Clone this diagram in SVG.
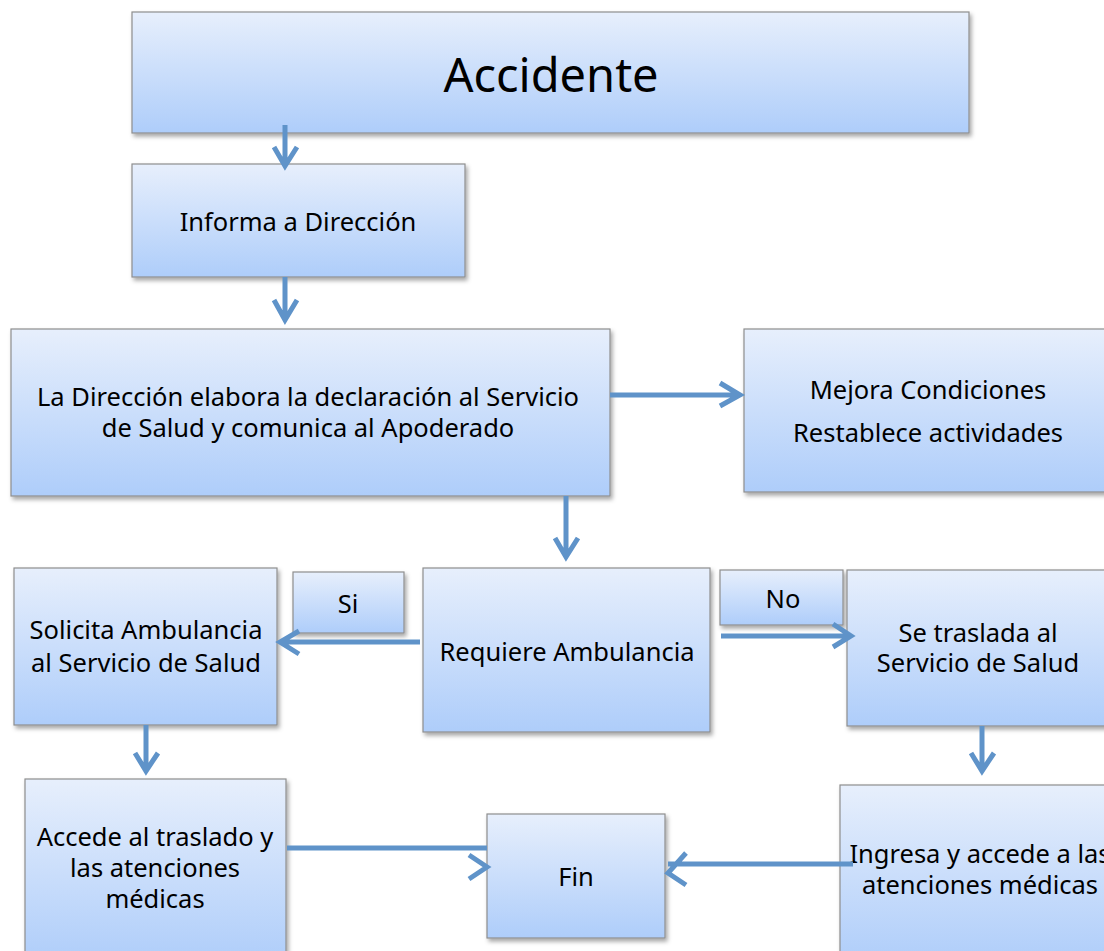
<svg xmlns="http://www.w3.org/2000/svg" width="1104" height="951" viewBox="0 0 1104 951">
<defs>
<linearGradient id="g" x1="0" y1="0" x2="0" y2="1">
<stop offset="0" stop-color="#e7effc"/>
<stop offset="1" stop-color="#aecdfa"/>
</linearGradient>
<filter id="sh" x="-10%" y="-10%" width="130%" height="130%">
<feDropShadow dx="2" dy="3" stdDeviation="2" flood-color="#000" flood-opacity="0.35"/>
</filter>
<filter id="bl" x="-10%" y="-200%" width="120%" height="500%">
<feGaussianBlur stdDeviation="2"/>
</filter>
</defs>
<style>
.box{fill:url(#g);stroke:#8e8e8e;stroke-width:1.2;filter:url(#sh)}
.t{font-family:"Noto Sans","Open Sans",sans-serif;font-size:25.5px;fill:#000;text-anchor:middle}
.big{font-size:47px}
.c{fill:none;stroke:#5f93c9;stroke-width:5;stroke-linecap:butt;stroke-linejoin:miter}
.s{fill:none;stroke:#9a9a9a;stroke-width:4;filter:url(#bl);opacity:0.8}
</style>
<rect width="1104" height="951" fill="#fff"/>
<g id="n-accidente"><rect class="box" x="132" y="12" width="837" height="121"/><text class="t big" x="551" y="92">Accidente</text></g>
<g id="n-informa"><rect class="box" x="132" y="164" width="333" height="113"/><text class="t" x="298" y="231">Informa a Dirección</text></g>
<g id="n-declaracion"><rect class="box" x="11" y="329" width="599" height="167"/><text class="t" x="308" y="406">La Dirección elabora la declaración al Servicio</text><text class="t" x="308" y="437">de Salud y comunica al Apoderado</text></g>
<g id="n-mejora"><rect class="box" x="744" y="329" width="370" height="163"/><text class="t" x="928" y="399">Mejora Condiciones</text><text class="t" x="928" y="442">Restablece actividades</text></g>
<g id="n-solicita"><rect class="box" x="14" y="568" width="263" height="157"/><text class="t" x="146" y="639">Solicita Ambulancia</text><text class="t" x="146" y="672">al Servicio de Salud</text></g>
<g id="n-si"><rect class="box" x="293" y="572" width="111" height="61"/><text class="t" x="348" y="613">Si</text></g>
<g id="n-requiere"><rect class="box" x="423" y="568" width="287" height="164"/><text class="t" x="567" y="661">Requiere Ambulancia</text></g>
<g id="n-no"><rect class="box" x="720" y="570" width="123" height="55"/><text class="t" x="783" y="608">No</text></g>
<g id="n-traslada"><rect class="box" x="847" y="570" width="267" height="156"/><text class="t" x="978" y="642">Se traslada al</text><text class="t" x="978" y="672">Servicio de Salud</text></g>
<g id="n-accede"><rect class="box" x="25" y="779" width="261" height="185"/><text class="t" x="155" y="846">Accede al traslado y</text><text class="t" x="155" y="877">las atenciones</text><text class="t" x="155" y="908">médicas</text></g>
<g id="n-fin"><rect class="box" x="487" y="814" width="178" height="124"/><text class="t" x="576" y="886">Fin</text></g>
<g id="n-ingresa"><rect class="box" x="840" y="785" width="274" height="180"/><text class="t" x="980" y="863">Ingresa y accede a las</text><text class="t" x="980" y="894">atenciones médicas</text></g>
<g id="connectors">
<path class="s" d="M287 869 H470"/>
<path class="s" d="M668 877 H853"/>
<path class="c" d="M285 125 V166 M274 147 L285 166 L297 147"/>
<path class="c" d="M285 277 V320 M274 300 L285 320 L297 300"/>
<path class="c" d="M610 395 H740 M720 383 L740 395 L720 406"/>
<path class="c" d="M566 496 V557 M555 538 L566 557 L578 538"/>
<path class="c" d="M420 642 H280 M299 631 L280 642 L299 654"/>
<path class="c" d="M721 636 H851 M833 624 L851 636 L833 647"/>
<path class="c" d="M146 725 V771 M135 753 L146 771 L158 753"/>
<path class="c" d="M982 726 V771 M971 753 L982 771 L994 753"/>
<path class="c" d="M287 848 H487 M469 855 L487 867 L469 879"/>
<path class="c" d="M853 864 H668 M686 853 L668 873 L686 885"/>
</g>
</svg>
